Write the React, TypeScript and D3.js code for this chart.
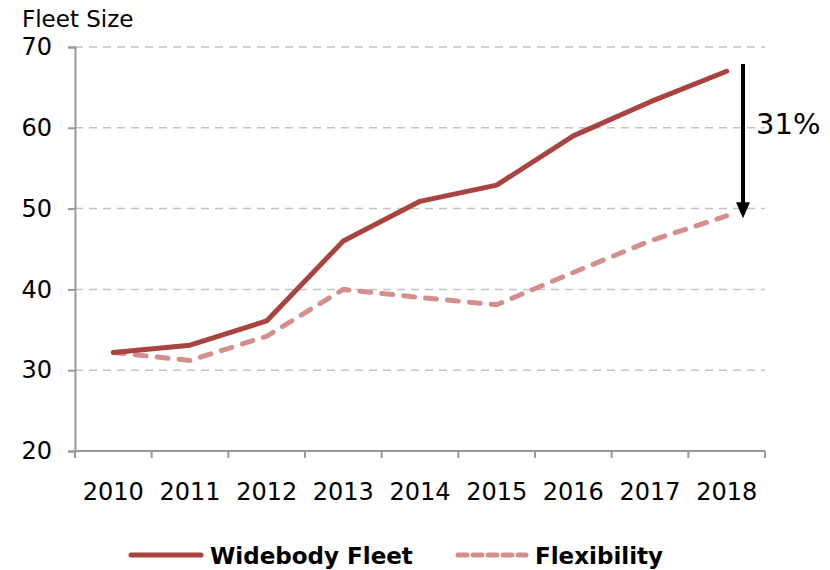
import React, { useEffect, useRef } from "react";
import * as d3 from "d3";

const years = ["2010", "2011", "2012", "2013", "2014", "2015", "2016", "2017", "2018"];
const widebody = [32.2, 33.1, 36.1, 46, 50.9, 52.9, 59, 63.2, 67];
const flexibility = [32.2, 31.2, 34.2, 40, 39, 38.1, 42.1, 46, 49.1];
const yTicks = [20, 30, 40, 50, 60, 70];
const gapLabel = "31%";

function App() {
  const ref = useRef<SVGSVGElement>(null);

  useEffect(() => {
    const svg = d3.select(ref.current);
    svg.selectAll("*").remove();

    const width = 830;
    const height = 570;
    const margin = { top: 47, left: 75, right: 65, bottom: 119 };
    const iwidth = width - margin.left - margin.right;
    const iheight = height - margin.top - margin.bottom;
    const font = "DejaVu Sans, Verdana, sans-serif";
    const axisColor = "#999999";

    const x = d3.scaleBand().domain(years).range([0, iwidth]);
    const y = d3.scaleLinear().domain([20, 70]).range([iheight, 0]);

    const g = svg
      .append("g")
      .attr("transform", `translate(${margin.left},${margin.top})`);

    // grid
    g.selectAll(".grid")
      .data(yTicks.filter((t) => t > 20))
      .enter()
      .append("line")
      .attr("x1", 0)
      .attr("x2", iwidth)
      .attr("y1", (d) => y(d))
      .attr("y2", (d) => y(d))
      .attr("stroke", "#c4c4c4")
      .attr("stroke-width", 1.5)
      .attr("stroke-dasharray", "8,6");

    // y axis
    const yAxis = g
      .append("g")
      .call(d3.axisLeft(y).tickValues(yTicks).tickSize(7).tickPadding(16));
    yAxis.select(".domain").attr("stroke", axisColor).attr("stroke-width", 2);
    yAxis.selectAll(".tick line").attr("stroke", axisColor).attr("stroke-width", 2);
    yAxis
      .selectAll("text")
      .attr("font-family", font)
      .attr("font-size", 24)
      .attr("fill", "#000");

    // x axis, ticks between categories
    const xa = g.append("g").attr("transform", `translate(0,${iheight})`);
    xa.append("line")
      .attr("x1", 0)
      .attr("x2", iwidth)
      .attr("stroke", axisColor)
      .attr("stroke-width", 2);
    xa.selectAll(".xt")
      .data(d3.range(years.length + 1))
      .enter()
      .append("line")
      .attr("x1", (i) => i * x.step())
      .attr("x2", (i) => i * x.step())
      .attr("y1", 0)
      .attr("y2", 7)
      .attr("stroke", axisColor)
      .attr("stroke-width", 2);
    xa.selectAll(".xl")
      .data(years)
      .enter()
      .append("text")
      .attr("x", (d) => (x(d) as number) + x.bandwidth() / 2)
      .attr("y", 49)
      .attr("text-anchor", "middle")
      .attr("font-family", font)
      .attr("font-size", 24)
      .attr("fill", "#000")
      .text((d) => d);

    const line = d3
      .line<number>()
      .x((_, i) => (x(years[i]) as number) + x.bandwidth() / 2)
      .y((d) => y(d));

    g.append("path")
      .datum(flexibility)
      .attr("d", line)
      .attr("fill", "none")
      .attr("stroke", "#d48f8d")
      .attr("stroke-width", 5)
      .attr("stroke-linecap", "round")
      .attr("stroke-dasharray", "11,11");

    g.append("path")
      .datum(widebody)
      .attr("d", line)
      .attr("fill", "none")
      .attr("stroke", "#a8433f")
      .attr("stroke-width", 5)
      .attr("stroke-linecap", "round")
      .attr("stroke-linejoin", "round");

    // gap arrow
    const ax = iwidth - 22;
    g.append("line")
      .attr("x1", ax)
      .attr("x2", ax)
      .attr("y1", y(67.9))
      .attr("y2", y(50.5))
      .attr("stroke", "#000")
      .attr("stroke-width", 4);
    g.append("path")
      .attr(
        "d",
        `M${ax - 7},${y(50.8)} L${ax + 7},${y(50.8)} L${ax},${y(48.8)} Z`
      )
      .attr("fill", "#000");
    g.append("text")
      .attr("x", ax + 13)
      .attr("y", y(59.2))
      .attr("font-family", font)
      .attr("font-size", 29)
      .attr("fill", "#000")
      .text(gapLabel);

    // title
    svg
      .append("text")
      .attr("x", 22)
      .attr("y", 27)
      .attr("font-family", font)
      .attr("font-size", 23)
      .attr("fill", "#000")
      .text("Fleet Size");

    // legend
    const lg = svg.append("g").attr("transform", "translate(0,555)");
    lg.append("line")
      .attr("x1", 131)
      .attr("x2", 201)
      .attr("stroke", "#a8433f")
      .attr("stroke-width", 5)
      .attr("stroke-linecap", "round");
    lg.append("text")
      .attr("x", 210)
      .attr("y", 9)
      .attr("font-family", font)
      .attr("font-size", 23)
      .attr("font-weight", "bold")
      .text("Widebody Fleet");
    lg.append("line")
      .attr("x1", 458)
      .attr("x2", 526)
      .attr("stroke", "#d48f8d")
      .attr("stroke-width", 5)
      .attr("stroke-linecap", "round")
      .attr("stroke-dasharray", "9,6");
    lg.append("text")
      .attr("x", 535)
      .attr("y", 9)
      .attr("font-family", font)
      .attr("font-size", 23)
      .attr("font-weight", "bold")
      .text("Flexibility");
  }, []);

  return (
    <svg
      ref={ref}
      width={830}
      height={570}
      style={{ display: "block", position: "absolute", left: 0, top: 0 }}
    />
  );
}

export default App;
